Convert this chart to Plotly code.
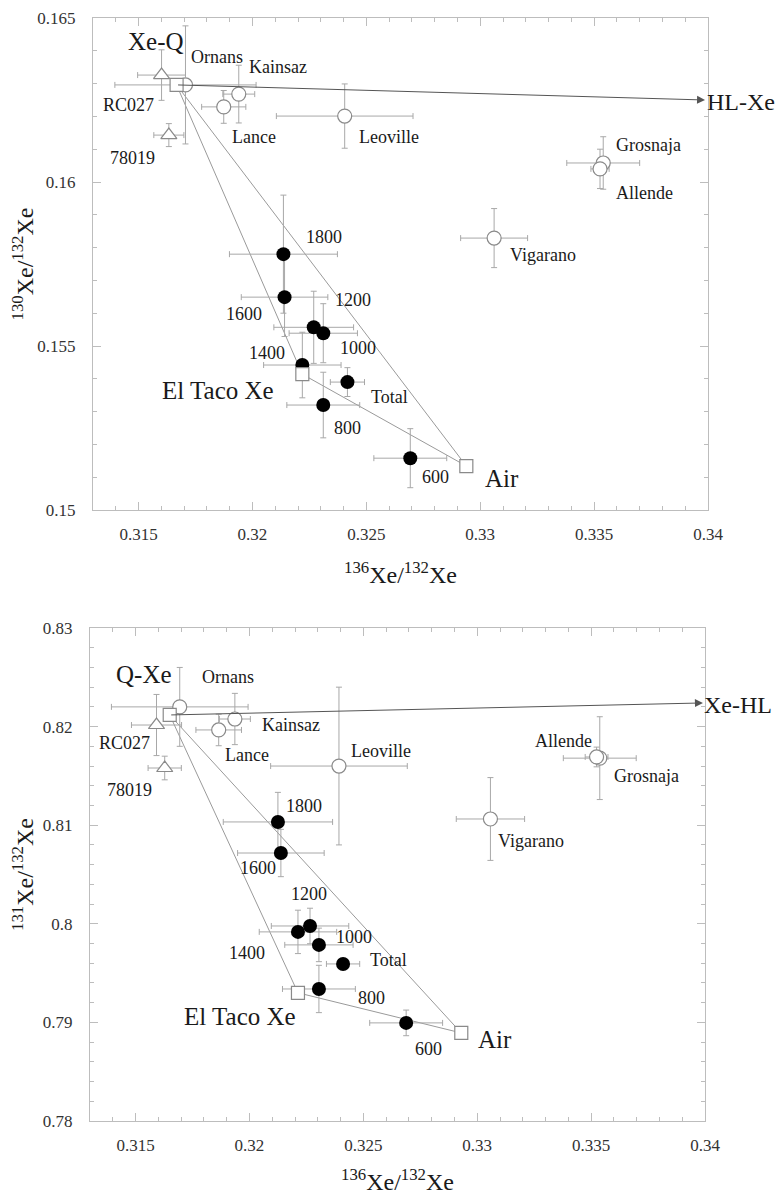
import plotly.graph_objects as go

# ---------------- data ----------------
# meteorites (open circles)
met_names = ["Ornans", "Kainsaz", "Lance", "Leoville", "Grosnaja", "Allende", "Vigarano"]
met_x_top = [0.31706, 0.31940, 0.31874, 0.32405, 0.33540, 0.33526, 0.33061]
met_y_top = [0.16296, 0.16268, 0.16229, 0.16201, 0.16058, 0.16040, 0.15829]
met_xerr_top = [0.0031, 0.0007, 0.00097, 0.0030, 0.0016, 0.0004, 0.00147]
met_yerr_top = [0.0018, 0.00088, 0.0005, 0.00098, 0.0008, 0.0006, 0.0009]
met_x_bot = [0.31694, 0.31936, 0.31865, 0.32393, 0.33538, 0.33524, 0.33058]
met_y_bot = [0.8220, 0.82077, 0.81966, 0.8160, 0.8168, 0.81692, 0.81063]
met_xerr_bot = [0.0030, 0.00068, 0.0010, 0.0030, 0.0016, 0.0005, 0.0015]
met_yerr_bot = [0.0040, 0.0026, 0.0016, 0.0080, 0.0042, 0.0010, 0.0042]

# other samples (open triangles)
tri_names = ["RC027", "78019"]
tri_x_top = [0.31601, 0.31633]
tri_y_top = [0.16326, 0.16143]
tri_xerr_top = [0.00105, 0.00066]
tri_yerr_top = [0.00077, 0.00035]
tri_x_bot = [0.31592, 0.31628]
tri_y_bot = [0.82016, 0.8158]
tri_xerr_bot = [0.0011, 0.00073]
tri_yerr_bot = [0.0031, 0.0012]

# temperature steps (filled circles)
step_names = ["1800", "1600", "1400", "1200", "1000", "800", "600", "Total"]
step_x_top = [0.32136, 0.32141, 0.32219, 0.32269, 0.32311, 0.32311, 0.32693, 0.32417]
step_y_top = [0.15780, 0.15649, 0.15442, 0.15557, 0.15539, 0.15320, 0.15158, 0.15390]
step_xerr_top = [0.00237, 0.0019, 0.0017, 0.00175, 0.0015, 0.0016, 0.0016, 0.00075]
step_yerr_top = [0.0018, 0.0012, 0.0010, 0.0011, 0.0009, 0.0010, 0.0009, 0.00044]
step_x_bot = [0.32125, 0.32138, 0.32213, 0.32266, 0.32305, 0.32305, 0.32688, 0.32411]
step_y_bot = [0.81033, 0.80718, 0.79918, 0.79978, 0.79786, 0.79339, 0.78995, 0.79593]
step_xerr_bot = [0.0024, 0.0019, 0.0017, 0.0017, 0.0015, 0.0016, 0.0016, 0.00073]
step_yerr_bot = [0.0030, 0.0024, 0.0022, 0.0018, 0.0017, 0.0024, 0.0013, 0.0005]

# end members (open squares)
end_names_top = ["Xe-Q", "El Taco Xe", "Air"]
end_names_bot = ["Q-Xe", "El Taco Xe", "Air"]
end_x_top = [0.31667, 0.32219, 0.32939]
end_y_top = [0.16296, 0.15414, 0.15134]
end_x_bot = [0.31650, 0.32213, 0.32930]
end_y_bot = [0.82118, 0.79300, 0.78893]

# HL-Xe direction (arrow tip)
hl_name_top, hl_x_top, hl_y_top = "HL-Xe", 0.33987, 0.16250
hl_name_bot, hl_x_bot, hl_y_bot = "Xe-HL", 0.33991, 0.82240

# ticks
x_ticks = [0.315, 0.32, 0.325, 0.33, 0.335, 0.34]
x_ticklabels = ["0.315", "0.32", "0.325", "0.33", "0.335", "0.34"]
y_ticks_top = [0.15, 0.155, 0.16, 0.165]
y_ticklabels_top = ["0.15", "0.155", "0.16", "0.165"]
y_ticks_bot = [0.78, 0.79, 0.80, 0.81, 0.82, 0.83]
y_ticklabels_bot = ["0.78", "0.79", "0.8", "0.81", "0.82", "0.83"]

# ---------------- label placement (pixel offsets from points) ----------------
off_top = {
    "Xe-Q": (-21, 43), "Ornans": (32, 28), "Kainsaz": (39, 27), "RC027": (-33, -30),
    "Lance": (30, -30), "Leoville": (44, -21), "78019": (-36, -23), "Grosnaja": (45, 18),
    "Allende": (44, -24), "Vigarano": (49, -17), "1800": (41, 17), "1600": (-41, -17),
    "1200": (39, 27), "1000": (35, -15), "1400": (-35, 12), "El Taco Xe": (-84, -16),
    "Total": (42, -15), "800": (24, -23), "600": (25, -19), "Air": (36, -12),
}
off_bot = {
    "Q-Xe": (-26, 40), "Ornans": (48, 30), "Kainsaz": (56, -6), "RC027": (-32, -18),
    "Lance": (28, -25), "Leoville": (42, 15), "78019": (-35, -22), "Allende": (-33, 16),
    "Grosnaja": (47, -18), "Vigarano": (41, -22), "1800": (26, 16), "1600": (-23, -15),
    "1200": (-1, 32), "1400": (-51, -21), "1000": (35, 8), "Total": (45, 4),
    "800": (53, -9), "El Taco Xe": (-58, -24), "600": (22, -26), "Air": (34, -7),
}

FONT = "Liberation Serif"
GRAY_LINE = "#9a9a9a"
ERR = "#a8a8a8"

fig = go.Figure()


def add_panel(xa, ya, mx, my, mxe, mye, tx, ty, txe, tye, sx, sy, sxe, sye, ex, ey):
    # mixing polygon
    fig.add_trace(go.Scatter(x=[ex[0], ex[1], ex[2], ex[0]], y=[ey[0], ey[1], ey[2], ey[0]],
                             mode="lines", line=dict(color=GRAY_LINE, width=1),
                             xaxis=xa, yaxis=ya, hoverinfo="skip"))
    errstyle = dict(type="data", color=ERR, thickness=1, width=3)
    fig.add_trace(go.Scatter(x=mx, y=my, mode="markers", xaxis=xa, yaxis=ya,
                             error_x=dict(array=mxe, **errstyle), error_y=dict(array=mye, **errstyle),
                             marker=dict(symbol="circle", size=14, color="white",
                                         line=dict(color="#8a8a8a", width=1.2))))
    fig.add_trace(go.Scatter(x=tx, y=ty, mode="markers", xaxis=xa, yaxis=ya,
                             error_x=dict(array=txe, **errstyle), error_y=dict(array=tye, **errstyle),
                             marker=dict(symbol="triangle-up", size=14, color="white",
                                         line=dict(color="#8a8a8a", width=1.2))))
    fig.add_trace(go.Scatter(x=sx, y=sy, mode="markers", xaxis=xa, yaxis=ya,
                             error_x=dict(array=sxe, **errstyle), error_y=dict(array=sye, **errstyle),
                             marker=dict(symbol="circle", size=14, color="black",
                                         line=dict(color="black", width=0))))
    fig.add_trace(go.Scatter(x=ex, y=ey, mode="markers", xaxis=xa, yaxis=ya,
                             marker=dict(symbol="square", size=13, color="white",
                                         line=dict(color="#8a8a8a", width=1.2))))


add_panel("x", "y", met_x_top, met_y_top, met_xerr_top, met_yerr_top,
          tri_x_top, tri_y_top, tri_xerr_top, tri_yerr_top,
          step_x_top, step_y_top, step_xerr_top, step_yerr_top, end_x_top, end_y_top)
add_panel("x2", "y2", met_x_bot, met_y_bot, met_xerr_bot, met_yerr_bot,
          tri_x_bot, tri_y_bot, tri_xerr_bot, tri_yerr_bot,
          step_x_bot, step_y_bot, step_xerr_bot, step_yerr_bot, end_x_bot, end_y_bot)

annotations = []
BIG = {"Xe-Q", "Q-Xe", "El Taco Xe", "Air"}


def add_labels(xr, yr, names, xs, ys, offs):
    for n, x, y in zip(names, xs, ys):
        dx, dy = offs[n]
        annotations.append(dict(x=x, y=y, xref=xr, yref=yr, text=n, showarrow=False,
                                xshift=dx, yshift=dy, xanchor="center", yanchor="middle",
                                font=dict(family=FONT, size=25 if n in BIG else 18, color="#1a1a1a")))


add_labels("x", "y", met_names, met_x_top, met_y_top, off_top)
add_labels("x", "y", tri_names, tri_x_top, tri_y_top, off_top)
add_labels("x", "y", step_names, step_x_top, step_y_top, off_top)
add_labels("x", "y", end_names_top, end_x_top, end_y_top, off_top)
add_labels("x2", "y2", met_names, met_x_bot, met_y_bot, off_bot)
add_labels("x2", "y2", tri_names, tri_x_bot, tri_y_bot, off_bot)
add_labels("x2", "y2", step_names, step_x_bot, step_y_bot, off_bot)
add_labels("x2", "y2", end_names_bot, end_x_bot, end_y_bot, off_bot)

# HL arrows
for xr, yr, tipx, tipy, qx, qy, name in [
        ("x", "y", hl_x_top, hl_y_top, end_x_top[0], end_y_top[0], hl_name_top),
        ("x2", "y2", hl_x_bot, hl_y_bot, end_x_bot[0], end_y_bot[0], hl_name_bot)]:
    annotations.append(dict(x=tipx, y=tipy, xref=xr, yref=yr, ax=qx, ay=qy, axref=xr, ayref=yr,
                            text="", showarrow=True, arrowhead=2, arrowsize=1.6, arrowwidth=1,
                            arrowcolor="#555555", standoff=0))
    annotations.append(dict(x=0.34, y=tipy, xref=xr, yref=yr, text=name, showarrow=False,
                            xanchor="left", yanchor="middle", xshift=-3, yshift=-2,
                            font=dict(family=FONT, size=24, color="#1a1a1a")))

fig.update_layout(annotations=annotations)

axis_common = dict(showline=True, linecolor="#bdbdbd", linewidth=1, mirror="ticks",
                   ticks="inside", ticklen=8, tickcolor="#bdbdbd", tickwidth=1,
                   showgrid=False, zeroline=False, automargin=False,
                   tickfont=dict(family=FONT, size=17, color="#333333"))
title_font = dict(family=FONT, size=24, color="#1a1a1a")
xtitle = "<sup>136</sup>Xe/<sup>132</sup>Xe"

# page body adds an 8px offset; figure sized so the plot fits the 783x1196 window
W, H = 775, 1188
L, R, T, B = 82, 75, 10, 75
PW, PH = W - L - R, H - T - B   # 618, 1103

fig.update_layout(
    width=W, height=H,
    margin=dict(l=L, r=R, t=T, b=B, autoexpand=False),
    paper_bgcolor="white", plot_bgcolor="white",
    font=dict(family=FONT),
    showlegend=False,
    xaxis=dict(domain=[3 / PW, 1], range=[0.313, 0.34], anchor="y",
               tickmode="array", tickvals=x_ticks, ticktext=x_ticklabels,
               minor=dict(tickmode="linear", tick0=0.315, dtick=0.001, ticks="inside",
                          ticklen=4, tickcolor="#bdbdbd"),
               ticklabelstandoff=9,
               title=dict(text=xtitle, font=title_font, standoff=22), **axis_common),
    yaxis=dict(domain=[611 / PH, 1], range=[0.15, 0.165], anchor="x",
               tickmode="array", tickvals=y_ticks_top, ticktext=y_ticklabels_top,
               minor=dict(tickmode="linear", tick0=0.15, dtick=0.001, ticks="inside",
                          ticklen=4, tickcolor="#bdbdbd"),
               ticklabelstandoff=13,
               title=dict(text="<sup>130</sup>Xe/<sup>132</sup>Xe", font=title_font, standoff=2),
               **axis_common),
    xaxis2=dict(domain=[0, 615 / PW], range=[0.313, 0.34], anchor="y2",
                tickmode="array", tickvals=x_ticks, ticktext=x_ticklabels,
                minor=dict(tickmode="linear", tick0=0.315, dtick=0.001, ticks="inside",
                           ticklen=4, tickcolor="#bdbdbd"),
                ticklabelstandoff=9,
                title=dict(text=xtitle, font=title_font, standoff=18), **axis_common),
    yaxis2=dict(domain=[0, 493 / PH], range=[0.78, 0.83], anchor="x2",
                tickmode="array", tickvals=y_ticks_bot, ticktext=y_ticklabels_bot,
                minor=dict(tickmode="linear", tick0=0.78, dtick=0.002, ticks="inside",
                           ticklen=4, tickcolor="#bdbdbd"),
                ticklabelstandoff=13,
                title=dict(text="<sup>131</sup>Xe/<sup>132</sup>Xe", font=title_font, standoff=2),
                **axis_common),
)

fig.write_html("out.html")
